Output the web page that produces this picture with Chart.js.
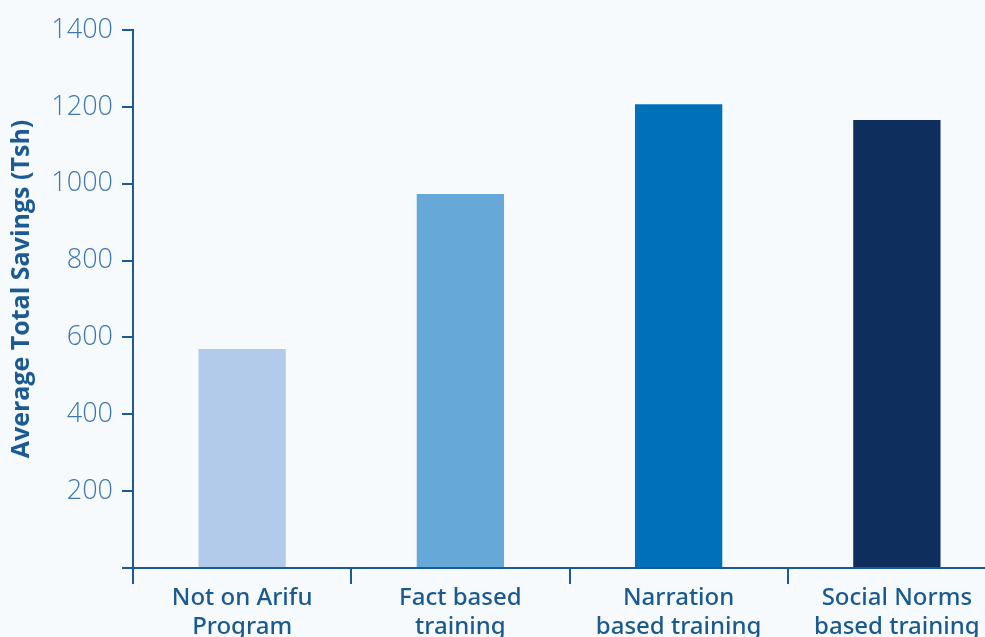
<!DOCTYPE html>
<html>
<head>
<meta charset="utf-8">
<script src="https://cdn.jsdelivr.net/npm/chart.js@4"></script>
<style>
  html, body { margin: 0; padding: 0; overflow: hidden; background: #f6fafd; }
  #wrap { position: absolute; left: 0; top: 0; width: 1006px; height: 680px; }
</style>
</head>
<body>
<div id="wrap"><canvas id="savingsChart"></canvas></div>
<script>
const categories = [
  ["Not on Arifu", "Program"],
  ["Fact based", "training"],
  ["Narration", "based training"],
  ["Social Norms", "based training"]
];
const savings = [570, 973, 1207, 1166];
const barColors = ["#b3cbea", "#66a9d8", "#0070bb", "#0e2f5e"];
const yTicks = [0, 200, 400, 600, 800, 1000, 1200, 1400];
const yTitle = "Average Total Savings (Tsh)";

const axisColor = "#1b5a92";

// y title drawn by hand so it can sit a little above the middle
const yTitlePlugin = {
  id: 'yTitle',
  afterDraw(chart) {
    const c = chart.ctx;
    const area = chart.chartArea;
    c.save();
    c.translate(22, (area.top + area.bottom) / 2 - 10);
    c.rotate(-Math.PI / 2);
    c.font = "700 25px 'Open Sans'";
    c.fillStyle = axisColor;
    c.textAlign = "center";
    c.textBaseline = "middle";
    c.fillText(yTitle, 0, 0);
    c.restore();
  }
};

const ctx = document.getElementById("savingsChart").getContext("2d");
const chart = new Chart(ctx, {
  type: 'bar',
  data: {
    labels: categories,
    datasets: [{
      data: savings,
      backgroundColor: barColors,
      categoryPercentage: 1.0,
      barPercentage: 0.4
    }]
  },
  options: {
    responsive: true,
    maintainAspectRatio: false,
    animation: false,
    layout: { padding: { top: 30, right: 0, bottom: 0, left: 0 } },
    plugins: {
      legend: { display: false },
      tooltip: { enabled: false }
    },
    scales: {
      x: {
        grid: {
          display: true,
          drawOnChartArea: false,
          offset: true,
          color: axisColor,
          lineWidth: 2,
          tickLength: 16
        },
        border: { color: axisColor, width: 2 },
        ticks: {
          color: "#1a5a8e",
          font: { family: "Noto Sans", size: 24, weight: 500, lineHeight: 1.2 },
          padding: 0,
          maxRotation: 0
        },
        afterFit: scale => { scale.height = 112; }
      },
      y: {
        min: 0,
        max: 1400,
        afterBuildTicks: scale => { scale.ticks = yTicks.map(v => ({ value: v })); },
        grid: {
          display: true,
          drawOnChartArea: false,
          color: axisColor,
          lineWidth: 2,
          tickLength: 11
        },
        border: { color: axisColor, width: 2 },
        ticks: {
          color: "#3b78b0",
          font: { family: "Open Sans", size: 27, weight: 300 },
          padding: 9,
          callback: v => v === 0 ? "" : v
        },
        afterFit: scale => { scale.width = 133; }
      }
    }
  },
  plugins: [yTitlePlugin]
});
</script>
</body>
</html>
